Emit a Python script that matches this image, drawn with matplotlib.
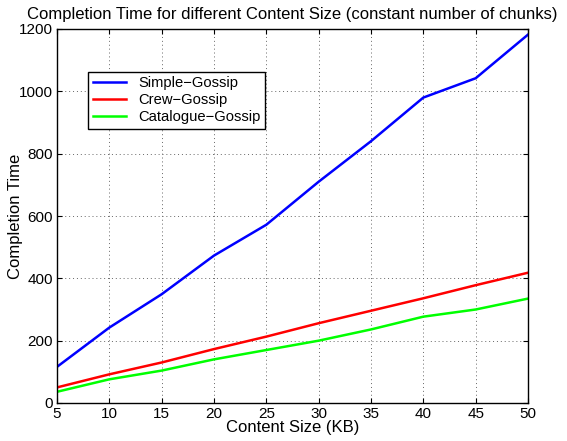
import matplotlib
matplotlib.use("Agg")
import matplotlib.pyplot as plt

plt.rcParams['font.family'] = ['Liberation Sans', 'DejaVu Sans']

size_kb = [5, 10, 15, 20, 25, 30, 35, 40, 45, 50]
simple_gossip = [116, 242, 349, 473, 572, 710, 840, 980, 1042, 1182]
crew_gossip = [50, 92, 130, 173, 213, 256, 296, 336, 378, 418]
catalogue_gossip = [36, 76, 104, 140, 170, 200, 236, 277, 300, 335]

fig = plt.figure(figsize=(5.67, 4.41), dpi=100)
ax = fig.add_axes([57/567, 1-403/441, 471/567, 374/441])

ax.plot(size_kb, simple_gossip, color='#0000ff', lw=1.8, label='Simple\u2212Gossip')
ax.plot(size_kb, crew_gossip, color='#ff0000', lw=1.8, label='Crew\u2212Gossip')
ax.plot(size_kb, catalogue_gossip, color='#00ff00', lw=1.8, label='Catalogue\u2212Gossip')

ax.set_xlim(5, 50)
ax.set_ylim(0, 1200)
ax.set_xticks(range(5, 51, 5))
ax.set_yticks(range(0, 1201, 200))
ax.grid(True, linestyle=(0, (1, 3)), color='#666666', lw=0.7)
ax.tick_params(direction='in', top=True, right=True, labelsize=11, pad=3)
for s in ax.spines.values():
    s.set_linewidth(1.0)

ax.set_xlabel('Content Size (KB)', fontsize=12, labelpad=-1)
ax.set_ylabel('Completion Time', fontsize=12)
ax.yaxis.set_label_coords(-0.072, 0.5)
ax.set_title('Completion Time for different Content Size (constant number of chunks)', fontsize=12, pad=7)

leg = ax.legend(loc='upper left', bbox_to_anchor=(0.066, 0.885), fontsize=10.6,
                fancybox=False, edgecolor='black', framealpha=1,
                borderpad=0.3, labelspacing=0.2, handlelength=2.3, borderaxespad=0)
leg.get_frame().set_linewidth(1.0)

fig.savefig('out.png', dpi=100)
